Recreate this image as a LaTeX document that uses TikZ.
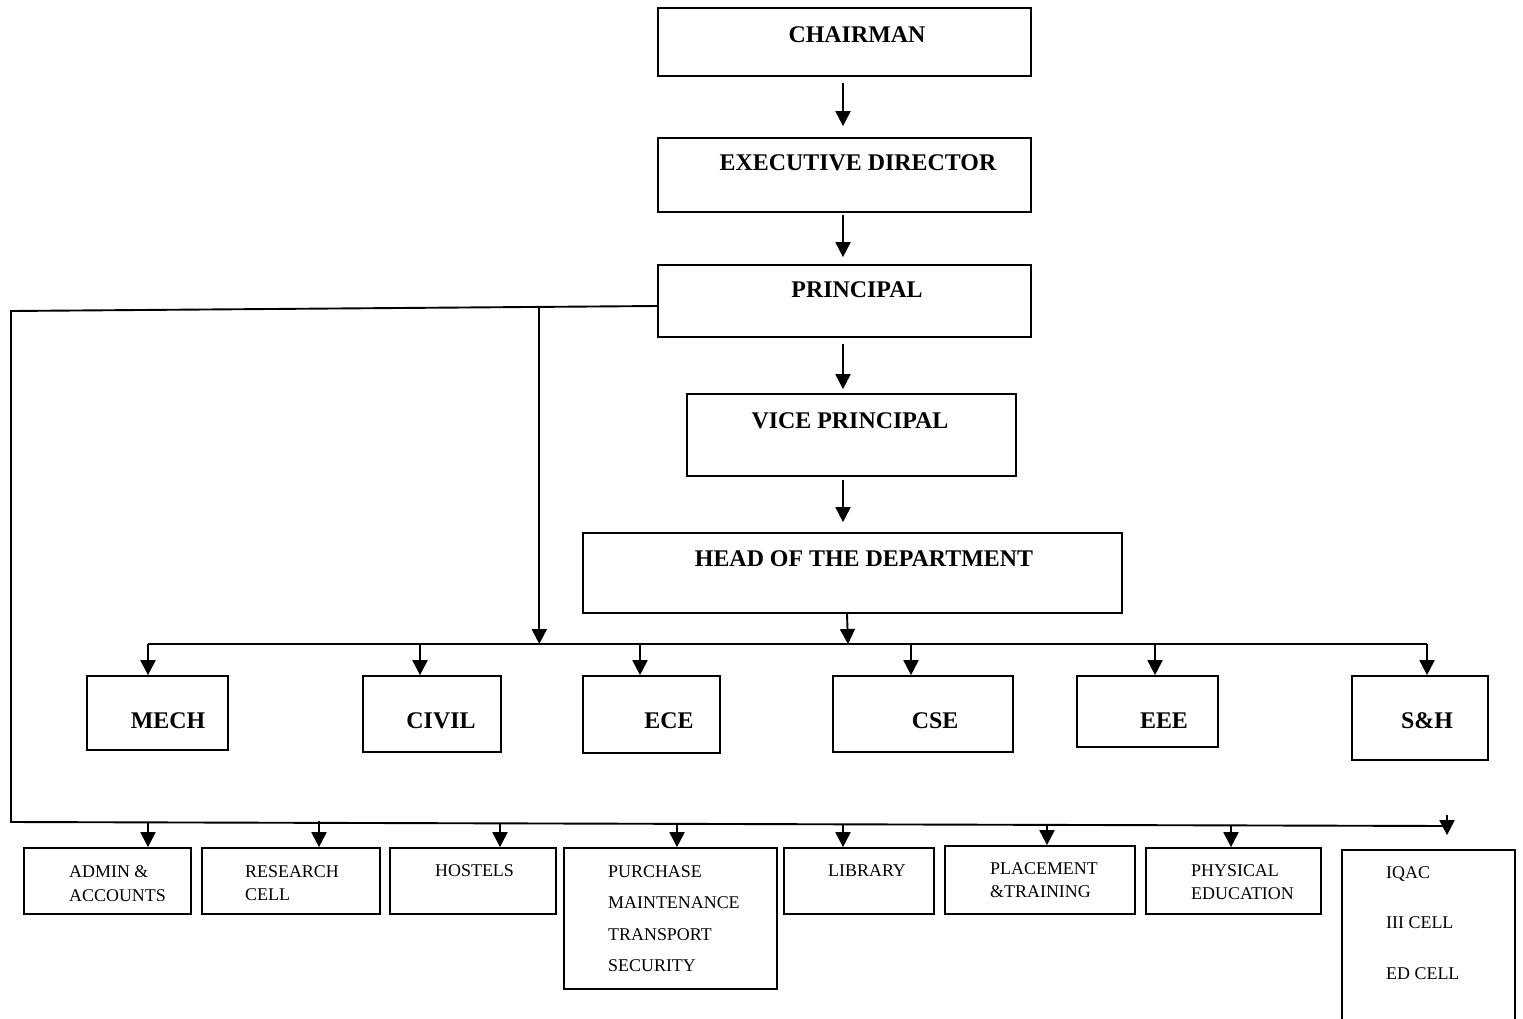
\documentclass[tikz,border=0pt]{standalone}
\usepackage{fontspec}
\setmainfont{Liberation Serif}
\usetikzlibrary{arrows.meta,fit,calc}
\begin{document}
\begin{tikzpicture}[x=1bp,y=1bp,
  box/.style={draw, line width=1.7bp, inner sep=0pt},
  big/.style={font=\fontsize{24}{28}\selectfont\bfseries, inner sep=0pt},
  small/.style={font=\fontsize{18}{24}\selectfont, inner sep=0pt, align=left, anchor=north west},
  ln/.style={line width=1.9bp},
  arr/.style={line width=1.9bp, -{Triangle[width=15bp,length=15bp]}}]
\useasboundingbox (0,0) rectangle (1523,-1018);
% top chain
\node[box, fit={(658,-8)(1031,-76)}] (chair) {};
\node[box, fit={(658,-138)(1031,-212)}] (ed) {};
\node[box, fit={(658,-265)(1031,-337)}] (princ) {};
\node[box, fit={(687,-394)(1016,-476)}] (vp) {};
\node[box, fit={(583,-533)(1122,-613)}] (hod) {};
\node[big] (tchair) at (857,-35) {CHAIRMAN};
\node[big] (ted) at (858,-163) {EXECUTIVE DIRECTOR};
\node[big] (tprinc) at (857,-290) {PRINCIPAL};
\node[big] (tvp) at (850,-421) {VICE PRINCIPAL};
\node[big] (thod) at (864,-559) {HEAD OF THE DEPARTMENT};
% departments
\node[box, fit={(87,-676)(228,-750)}] (mech) {};
\node[box, fit={(363,-676)(501,-752)}] (civil) {};
\node[box, fit={(583,-676)(720,-753)}] (ece) {};
\node[box, fit={(833,-676)(1013,-752)}] (cse) {};
\node[box, fit={(1077,-676)(1218,-747)}] (eee) {};
\node[box, fit={(1352,-676)(1488,-760)}] (sh) {};
\node[big] (tmech) at (168,-721) {MECH};
\node[big] (tcivil) at (441,-721) {CIVIL};
\node[big] (tece) at (669,-721) {ECE};
\node[big] (tcse) at (935,-721) {CSE};
\node[big] (teee) at (1164,-721) {EEE};
\node[big] (tsh) at (1427,-721) {S\&H};
% bottom row
\node[box, fit={(24,-848)(191,-914)}] (admin) {};
\node[box, fit={(202,-848)(380,-914)}] (res) {};
\node[box, fit={(390,-848)(556,-914)}] (hos) {};
\node[box, fit={(564,-848)(777,-989)}] (pur) {};
\node[box, fit={(784,-848)(934,-914)}] (lib) {};
\node[box, fit={(945,-846)(1135,-914)}] (plc) {};
\node[box, fit={(1146,-848)(1321,-914)}] (phy) {};
\node[box, fit={(1342,-850)(1515,-1030)}] (iqac) {};
\node[small] (tadmin) at (69,-865) {ADMIN \&\\ACCOUNTS};
\node[small] (tres) at (245,-865) {RESEARCH\\CELL};
\node[small] (thos) at (435,-864) {HOSTELS};
\node[small, font=\fontsize{18}{31.7}\selectfont] (tpur) at (608,-865) {PURCHASE\\MAINTENANCE\\TRANSPORT\\SECURITY};
\node[small] (tlib) at (828,-864) {LIBRARY};
\node[small, font=\fontsize{18}{23}\selectfont] (tplc) at (990,-862) {PLACEMENT\\\&TRAINING};
\node[small] (tphy) at (1191,-864) {PHYSICAL\\EDUCATION};
\node[small, font=\fontsize{18}{51}\selectfont] (tiqac) at (1386,-866) {IQAC\\III CELL\\ED CELL};
% chain arrows
\draw[arr] ($(chair.south)+(-1.5,-6)$) -- ($(ed.north)+(-1.5,11)$);
\draw[arr] ($(ed.south)+(-1.5,-2)$) -- ($(princ.north)+(-1.5,7)$);
\draw[arr] ($(princ.south)+(-1.5,-6)$) -- ($(princ.south |- vp.north)+(-1.5,4)$);
\draw[arr] ($(vp.south)+(-8.5,-3)$) -- ($(vp.south |- hod.north)+(-8.5,10)$);
% department bus
\coordinate (busL) at (148,-644);
\coordinate (busR) at (1427,-644);
\draw[ln] (busL) -- (busR);
\draw[arr] ($(hod.south)+(-5.5,0)$) -- ($(hod.south |- busL)+(-4.5,0)$);
\foreach \n/\x in {mech/148, civil/420, ece/640, cse/911, eee/1155, sh/1427}
  \draw[arr] (\x,0 |- busL) -- (\x,0 |- \n.north);
% left branch from principal
\coordinate (pl) at ($(princ.west)+(0,-5)$);
\coordinate (tl) at (11,-311);
\coordinate (bl) at (11,-822);
\coordinate (br) at (1450,-826);
\draw[ln] (pl) -- (tl) -- (bl) -- (br);
\coordinate (j) at ($(tl)!0.8176!(pl)$);
\draw[arr] (j) -- (j |- busL);
% bottom arrows
\foreach \n/\x/\y in {admin/148/822.4, res/319/820.5, hos/500/823.4, pur/677/823.9, lib/843/824.3, plc/1047/824.9, phy/1231/825.4}
  \draw[arr] (\x,-\y) -- (\x,0 |- \n.north);
\coordinate (iqs) at (1447,-815);
\draw[arr] (iqs) -- ($(iqs |- iqac.north)+(0,14)$);
\end{tikzpicture}
\end{document}
